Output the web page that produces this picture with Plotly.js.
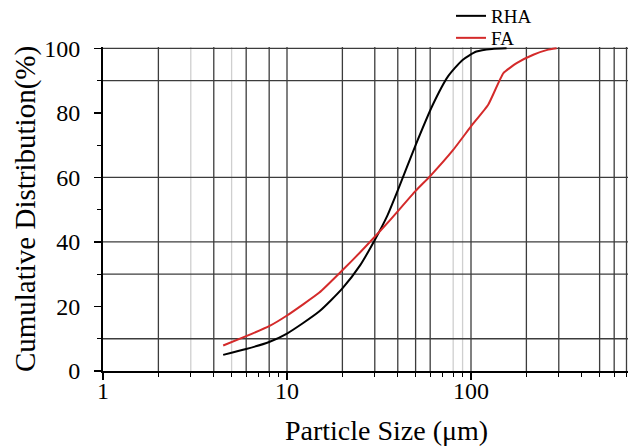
<!DOCTYPE html>
<html>
<head>
<meta charset="utf-8">
<script src="https://cdn.plot.ly/plotly-3.0.1.min.js"></script>
<style>
html,body{margin:0;padding:0;background:#fff;overflow:hidden;}
#wrap{width:628px;height:446px;overflow:hidden;position:relative;}
#chart{width:670px;height:446px;}
</style>
</head>
<body>
<div id="wrap"><div id="chart"></div></div>
<script>
// ---- data ----
const rhaSize = [4.5, 6, 8, 10, 15, 20, 25, 30, 35, 40, 50, 62, 75, 90, 107, 130, 156];
const rhaCum  = [5.0, 6.8, 9.0, 11.6, 18.5, 25.6, 32.8, 40.6, 48.0, 56.0, 70.0, 82.5, 91.3, 96.4, 99.0, 99.8, 100];
const faSize  = [4.5, 6, 8, 10, 15, 20, 25, 30, 36, 50, 60, 80, 100, 124, 150, 177, 218, 260, 292];
const faCum   = [7.9, 10.8, 13.9, 17.2, 24.3, 31.2, 36.8, 41.6, 46.5, 55.8, 60.4, 68.5, 75.8, 82.5, 92.3, 95.4, 98.0, 99.5, 100];
const seriesNames = ['RHA', 'FA'];

// ---- axis ticks / grid values ----
const xTickVals = [1, 10, 100];
const xTickText = ['1', '10', '100'];
const xMinorTicks = [2,3,4,5,6,7,8,9,20,30,40,50,60,70,80,90,200,300,400,500,600,700,800,900];
const xGridDark = [2,4,6,8,10,20,30,40,50,60,100,200,300,500,600,700];
const xGridLight = [3,5,80,90];
const yTickVals = [0,20,40,60,80,100];
const yMinorTicks = [10,30,50,70,90];
const yGrid = [10,30,40,60,90,100];

const FONT = 'Liberation Serif, Times New Roman, serif';

const shapes = [];
xGridDark.forEach(v => shapes.push({type:'line', layer:'below', xref:'x', yref:'paper',
  x0:v, x1:v, y0:0, y1:1, line:{color:'#3c3c3c', width:1.3}}));
xGridLight.forEach(v => shapes.push({type:'line', layer:'below', xref:'x', yref:'paper',
  x0:v, x1:v, y0:0, y1:1, line:{color:'#cfcfcf', width:1.3}}));
yGrid.forEach(v => shapes.push({type:'line', layer:'below', xref:'paper', yref:'y',
  x0:0, x1:1, y0:v, y1:v, line:{color:'#3c3c3c', width:1.3}}));

const traces = [
  {x: rhaSize, y: rhaCum, name: seriesNames[0], mode:'lines', type:'scatter',
   line:{color:'#000000', width:2, shape:'spline', smoothing:0.6}, legend:'legend'},
  {x: faSize, y: faCum, name: seriesNames[1], mode:'lines', type:'scatter',
   line:{color:'#d42a2a', width:2, shape:'spline', smoothing:0.4}, legend:'legend2'}
];

const legendCommon = {xanchor:'left', yanchor:'middle', bgcolor:'rgba(0,0,0,0)', borderwidth:0,
  font:{family:FONT, size:19, color:'#000'}};

const layout = {
  width:670, height:446,
  margin:{l:103, r:0, t:47, b:75, autoexpand:false},
  paper_bgcolor:'#fff', plot_bgcolor:'#fff',
  font:{family:FONT, color:'#000'},
  showlegend:true,
  legend:Object.assign({x:0.6138, y:1.0957}, legendCommon),
  legend2:Object.assign({x:0.6138, y:1.0278}, legendCommon),
  xaxis:{
    type:'log', range:[0, 3.0815], tickvals:xTickVals, ticktext:xTickText,
    ticks:'outside', ticklen:7, tickwidth:1.5, tickcolor:'#000',
    showline:true, linewidth:2, linecolor:'#000', showgrid:false, zeroline:false,
    ticklabelstandoff:-10, automargin:false,
    tickfont:{family:FONT, size:24, color:'#000'},
    minor:{tickvals:xMinorTicks, ticks:'outside', ticklen:4, tickwidth:1, tickcolor:'#000', showgrid:false},
    title:{text:'Particle Size (μm)', font:{family:FONT, size:28, color:'#000'}, standoff:22}
  },
  yaxis:{
    range:[0, 100.4], tickvals:yTickVals,
    ticks:'outside', ticklen:7, tickwidth:1.5, tickcolor:'#000',
    showline:true, linewidth:2, linecolor:'#000', showgrid:false, zeroline:false,
    ticklabelstandoff:9, automargin:false,
    tickfont:{family:FONT, size:24, color:'#000'},
    minor:{tickvals:yMinorTicks, ticks:'outside', ticklen:4, tickwidth:1, tickcolor:'#000', showgrid:false},
    title:{text:'Cumulative Distribution(%)', font:{family:FONT, size:29, color:'#000'}, standoff:0}
  },
  shapes:shapes
};

Plotly.newPlot('chart', traces, layout, {staticPlot:true, displayModeBar:false});
</script>
</body>
</html>
